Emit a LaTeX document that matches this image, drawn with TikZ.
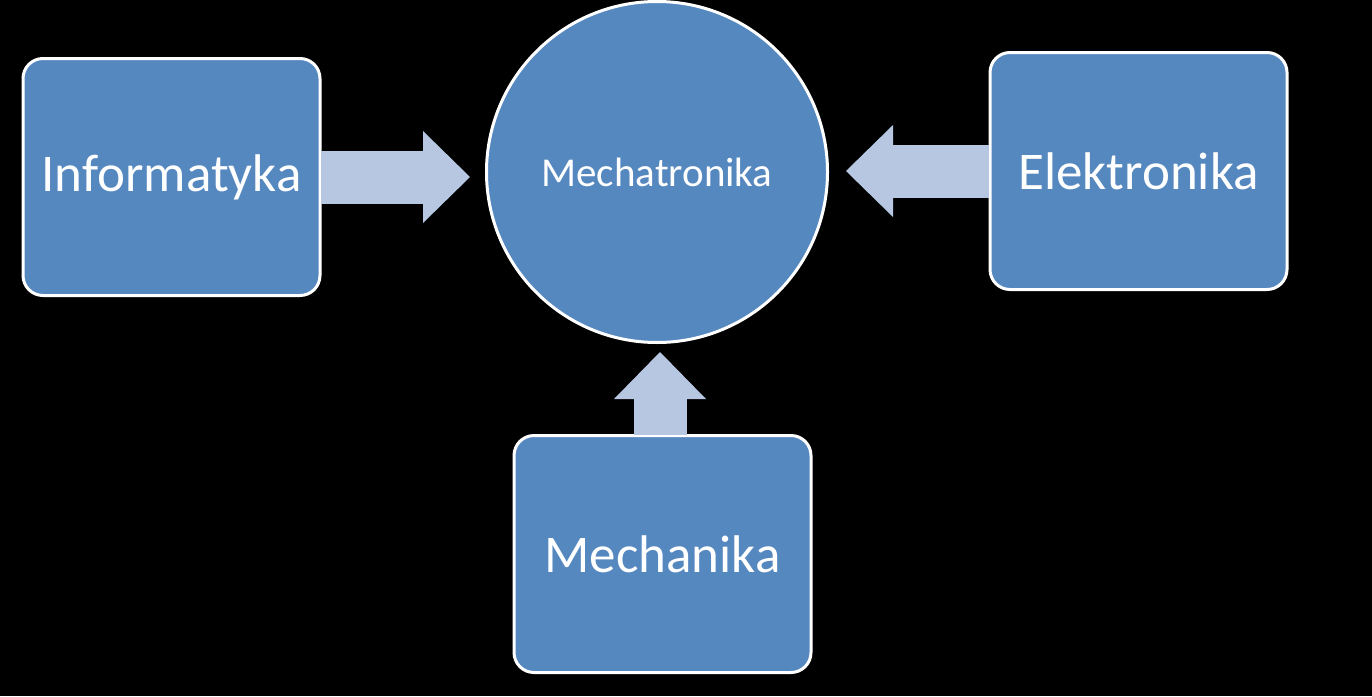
\documentclass[tikz,border=0pt]{standalone}
\usepackage{fontspec}
\setmainfont{Carlito}
\usetikzlibrary{arrows.meta}
\definecolor{boxblue}{RGB}{86,136,192}
\definecolor{arrowblue}{RGB}{184,199,225}
\tikzset{
  box/.style={draw=white, line width=3pt, fill=boxblue, rounded corners=20pt,
    minimum width=297pt, minimum height=237pt, inner sep=0pt, text=white,
    font=\fontsize{53}{60}\selectfont},
  hub/.style={circle, draw=white, line width=3pt, fill=boxblue, minimum size=341pt,
    inner sep=0pt, text=white, font=\fontsize{41}{48}\selectfont},
  blockarrow/.style={arrowblue, line width=53pt,
    -{Triangle[length=47pt,width=92pt,line width=0pt]}}
}
\begin{document}
\begin{tikzpicture}[x=1pt,y=-1pt]
\fill[black] (0,0) rectangle (1372,696);
\useasboundingbox (0,0) rectangle (1372,696);
\node[hub] (circ) at (657,172) {Mechatronika};
\node[box] (inf) at (171.5,177) {Informatyka};
\node[box] (ele) at (1138.5,171) {Elektronika};
\node[box] (mech) at (662.5,554) {Mechanika};
\draw[blockarrow, shorten >=15pt, shorten <=-0.5pt] (inf.east) -- (circ.west |- inf.east);
\draw[blockarrow, shorten >=17pt, shorten <=-0.5pt] (ele.west) -- (circ.east |- ele.west);
\draw[blockarrow, shorten <=-0.5pt] (mech.north -| 660,0) -- (660,352) coordinate (mtip);
\end{tikzpicture}
\end{document}
